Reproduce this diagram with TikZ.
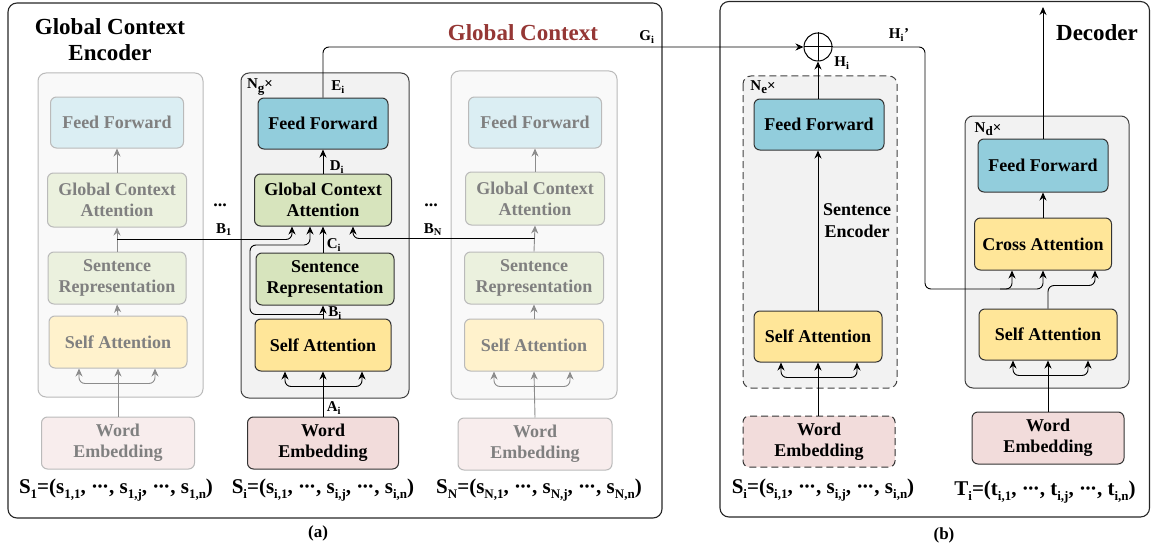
\documentclass[tikz,border=0pt]{standalone}
\usepackage{fontspec}
\setmainfont{Liberation Serif}
\usepackage{tikz}
\usetikzlibrary{arrows.meta, calc}

\definecolor{ffblue}{RGB}{146,205,220}
\definecolor{ffpale}{RGB}{219,238,243}
\definecolor{gcagreen}{RGB}{215,228,189}
\definecolor{gcapale}{RGB}{235,241,222}
\definecolor{sayellow}{RGB}{255,230,153}
\definecolor{sapale}{RGB}{255,242,204}
\definecolor{wepink}{RGB}{242,220,219}
\definecolor{wepale}{RGB}{248,237,237}
\definecolor{contgray}{RGB}{242,242,242}
\definecolor{contpale}{RGB}{249,249,249}
\definecolor{gcred}{RGB}{149,55,53}

\newcommand{\sbs}[1]{\raisebox{-0.22em}{\fontsize{13}{13}\selectfont #1}}
\newcommand{\cdts}{·\kern-1.5pt·\kern-1.5pt·}

\begin{document}
\begin{tikzpicture}[x=1pt, y=-1pt,
  box/.style={draw=black!80, fill=#1, rounded corners=6pt, line width=1pt, align=center,
    inner sep=0pt, font=\fontsize{18}{21}\selectfont\bfseries},
  pale/.style={draw=black!27, text=black!50},
  panel/.style={draw=black!85, rounded corners=9pt, line width=1.1pt},
  cont/.style={draw=black!75, fill=contgray, rounded corners=8pt, line width=1pt},
  contpl/.style={draw=black!27, fill=contpale, rounded corners=8pt, line width=1pt},
  dashbox/.style={dash pattern=on 7pt off 4pt},
  arr/.style={-{Stealth[length=8pt,width=7pt]}, line width=0.9pt},
  arrs/.style={{Stealth[length=8pt,width=7pt]}-{Stealth[length=8pt,width=7pt]}, line width=0.9pt, rounded corners=6pt},
  gray/.style={draw=black!45},
  lbl/.style={font=\fontsize{15}{16}\selectfont\bfseries, inner sep=0pt},
  title/.style={font=\fontsize{23}{26}\selectfont\bfseries, align=center, inner sep=0pt},
  formula/.style={font=\fontsize{21}{24}\selectfont\bfseries, inner sep=0pt}]
\useasboundingbox (0,0) rectangle (1151,551);

\draw[panel] (8,3) rectangle (662,518);
\draw[panel] (720,1.5) rectangle (1149.5,517);
\node[title] at (110,40) {Global Context\\Encoder};
\node[title, text=gcred] at (523,33) {Global Context};
\node[title] at (1097,33) {Decoder};
\node[lbl, font=\fontsize{17}{18}\selectfont\bfseries] at (318,533) {(a)};
\node[lbl, font=\fontsize{17}{18}\selectfont\bfseries] at (944,535) {(b)};

% left column
\draw[contpl] (38,73) rectangle (203,397);
\node[box=ffpale, pale, minimum width=133pt, minimum height=51pt] (lff) at (117,122.5) {Feed Forward};
\node[box=gcapale, pale, minimum width=139pt, minimum height=54pt] (lgca) at (117,200) {Global Context\\Attention};
\node[box=gcapale, pale, minimum width=138pt, minimum height=52pt] (lsr) at (117,278) {Sentence\\Representation};
\node[box=sapale, pale, minimum width=138pt, minimum height=52pt] (lsa) at (118,342) {Self Attention};
\node[box=wepale, pale, minimum width=153pt, minimum height=52pt] (lwe) at (118,443) {Word\\Embedding};
\draw[arr, gray] (lgca.north) -- (lff.south);
\draw[arr, gray] (lsr.north) -- (lgca.south);
\draw[arr, gray] (lsa.north) -- (lsr.south);
\draw[arr, gray] (lwe.north) -- (lsa.south);
\draw[arrs, gray] ([xshift=-39pt]lsa.south) -- ++(0,15) -| ([xshift=37pt]lsa.south);
\node[formula] (s1) at (116,490) {S\sbs{1}=(s\sbs{1,1}, \cdts, s\sbs{1,j}, \cdts, s\sbs{1,n})};

% middle column
\draw[cont] (241,73) rectangle (409,398);
\node[lbl] at (260,87) {N\sbs{g}×};
\node[box=ffblue, minimum width=130pt, minimum height=51pt] (mff) at (323,123.5) {Feed Forward};
\node[box=gcagreen, minimum width=137pt, minimum height=52pt] (mgca) at (323,200) {Global Context\\Attention};
\node[box=gcagreen, minimum width=138pt, minimum height=52pt] (msr) at (325,279) {Sentence\\Representation};
\node[box=sayellow, minimum width=136pt, minimum height=52pt] (msa) at (323,345) {Self Attention};
\node[box=wepink, minimum width=151pt, minimum height=52pt] (mwe) at (323,443) {Word\\Embedding};
\draw[arr] (mgca.north) -- (mff.south);
\draw[arr] (mgca.south |- msr.north) -- (mgca.south);
\draw[arr] (msa.north) -- (msa.north |- msr.south);
\draw[arr] (mwe.north) -- (msa.south);
\draw[arrs] ([xshift=-38pt]msa.south) -- ++(0,15) -| ([xshift=39pt]msa.south);
\draw[arr, rounded corners=6pt] ($(msa.north)+(0,-4)$) -| (250,245) -| ([xshift=-13pt]mgca.south);
\draw[arr, rounded corners=6pt] ($(lsr.north)!0.5!(lgca.south)$) -| ([xshift=-31pt]mgca.south);
\node[lbl] at (338,87) {E\textsubscript{i}};
\node[lbl] at (337,167) {D\textsubscript{i}};
\node[lbl] at (334,245) {C\textsubscript{i}};
\node[lbl] at (335,313) {B\textsubscript{i}};
\node[lbl] at (334,408) {A\textsubscript{i}};
\node[lbl] at (224,230) {B\textsubscript{1}};
\node[lbl] at (433,230) {B\textsubscript{N}};
\node[lbl, font=\fontsize{18}{20}\selectfont\bfseries, anchor=base] at (220,206) {...};
\node[lbl, font=\fontsize{18}{20}\selectfont\bfseries, anchor=base] at (431,206) {...};
\node[formula] (si) at (323,490) {S\sbs{i}=(s\sbs{i,1}, \cdts, s\sbs{i,j}, \cdts, s\sbs{i,n})};

% right column
\draw[contpl] (451,71) rectangle (617,399);
\node[box=ffpale, pale, minimum width=133pt, minimum height=51pt] (rff) at (535,122.5) {Feed Forward};
\node[box=gcapale, pale, minimum width=139pt, minimum height=53pt] (rgca) at (535,198.5) {Global Context\\Attention};
\node[box=gcapale, pale, minimum width=139pt, minimum height=52pt] (rsr) at (534,278) {Sentence\\Representation};
\node[box=sapale, pale, minimum width=139pt, minimum height=52pt] (rsa) at (534,345) {Self Attention};
\node[box=wepale, pale, minimum width=154pt, minimum height=52pt] (rwe) at (535,444) {Word\\Embedding};
\draw[arr, gray] (rgca.north) -- (rff.south);
\draw[arr, gray] (rsr.north) -- (rgca.south);
\draw[arr, gray] (rsa.north) -- (rsr.south);
\draw[arr, gray] (rwe.north) -- (rsa.south);
\draw[arrs, gray] ([xshift=-40pt]rsa.south) -- ++(0,15) -| ([xshift=36pt]rsa.south);
\draw[arr, rounded corners=6pt] ($(rsr.north)!0.5!(rgca.south)$) -| ([xshift=30pt]mgca.south);
\node[formula] (sn) at (539,490) {S\sbs{N}=(s\sbs{N,1}, \cdts, s\sbs{N,j}, \cdts, s\sbs{N,n})};

% (b) encoder
\node[circle, draw, line width=1pt, minimum size=28pt, inner sep=0pt] (op) at (818,47) {};
\draw[line width=1pt] (op.north) -- (op.south) (op.west) -- (op.east);
\draw[arr, rounded corners=6pt] (mff.north) |- (op.west);
\node[lbl] at (647,37) {G\textsubscript{i}};
\draw[cont, dashbox] (743,76) rectangle (897,388);
\node[lbl] at (763,87) {N\sbs{e}×};
\node[box=ffblue, minimum width=130pt, minimum height=51pt] (eff) at (819,124.5) {Feed Forward};
\node[box=sayellow, minimum width=128pt, minimum height=51pt] (esa) at (818,336.5) {Self Attention};
\node[box=wepink, dashbox, minimum width=152pt, minimum height=51pt] (ewe) at (819,441.5) {Word\\Embedding};
\draw[arr] (eff.north -| op.south) -- (op.south);
\draw[arr] (esa.north -| op.south) -- (eff.south -| op.south);
\draw[arr] (ewe.north -| op.south) -- (esa.south -| op.south);
\draw[arrs] ([xshift=-37pt]esa.south) -- ++(0,15) -| ([xshift=39pt]esa.south);
\node[lbl, font=\fontsize{18}{22}\selectfont\bfseries, align=center] at (857,221) {Sentence\\Encoder};
\node[lbl] at (842,63) {H\textsubscript{i}};
\node[lbl] at (899,35) {H\textsubscript{i}’};
\node[formula] (si2) at (823,490) {S\sbs{i}=(s\sbs{i,1}, \cdts, s\sbs{i,j}, \cdts, s\sbs{i,n})};

% (b) decoder
\draw[cont] (965,116) rectangle (1129,388);
\node[lbl] at (988,129) {N\sbs{d}×};
\node[box=ffblue, minimum width=130pt, minimum height=53pt] (dff) at (1043,165.5) {Feed Forward};
\node[box=sayellow, minimum width=137pt, minimum height=52pt] (dca) at (1043,244) {Cross Attention};
\node[box=sayellow, minimum width=138pt, minimum height=51pt] (dsa) at (1048,334.5) {Self Attention};
\node[box=wepink, minimum width=152pt, minimum height=52pt] (dwe) at (1048,438) {Word\\Embedding};
\coordinate (out) at (1043,7);
\draw[arr] (dff.north) -- (out);
\draw[arr] (dca.north) -- (dff.south);
\draw[arr] (dwe.north) -- (dsa.south);
\draw[arrs] ([xshift=-35pt]dsa.south) -- ++(0,15) -| ([xshift=40pt]dsa.south);
\draw[arr, rounded corners=6pt] (op.east) -| (925,289) -| ([xshift=-31pt]dca.south);
\draw[arr, rounded corners=6pt] (1000,289) -| (dca.south);
\draw[arr, rounded corners=6pt] (dsa.north) -- ++(0,-23) -| ([xshift=52pt]dca.south);
\node[formula] (ti) at (1045,492) {T\sbs{i}=(t\sbs{i,1}, \cdts, t\sbs{i,j}, \cdts, t\sbs{i,n})};
\end{tikzpicture}
\end{document}
